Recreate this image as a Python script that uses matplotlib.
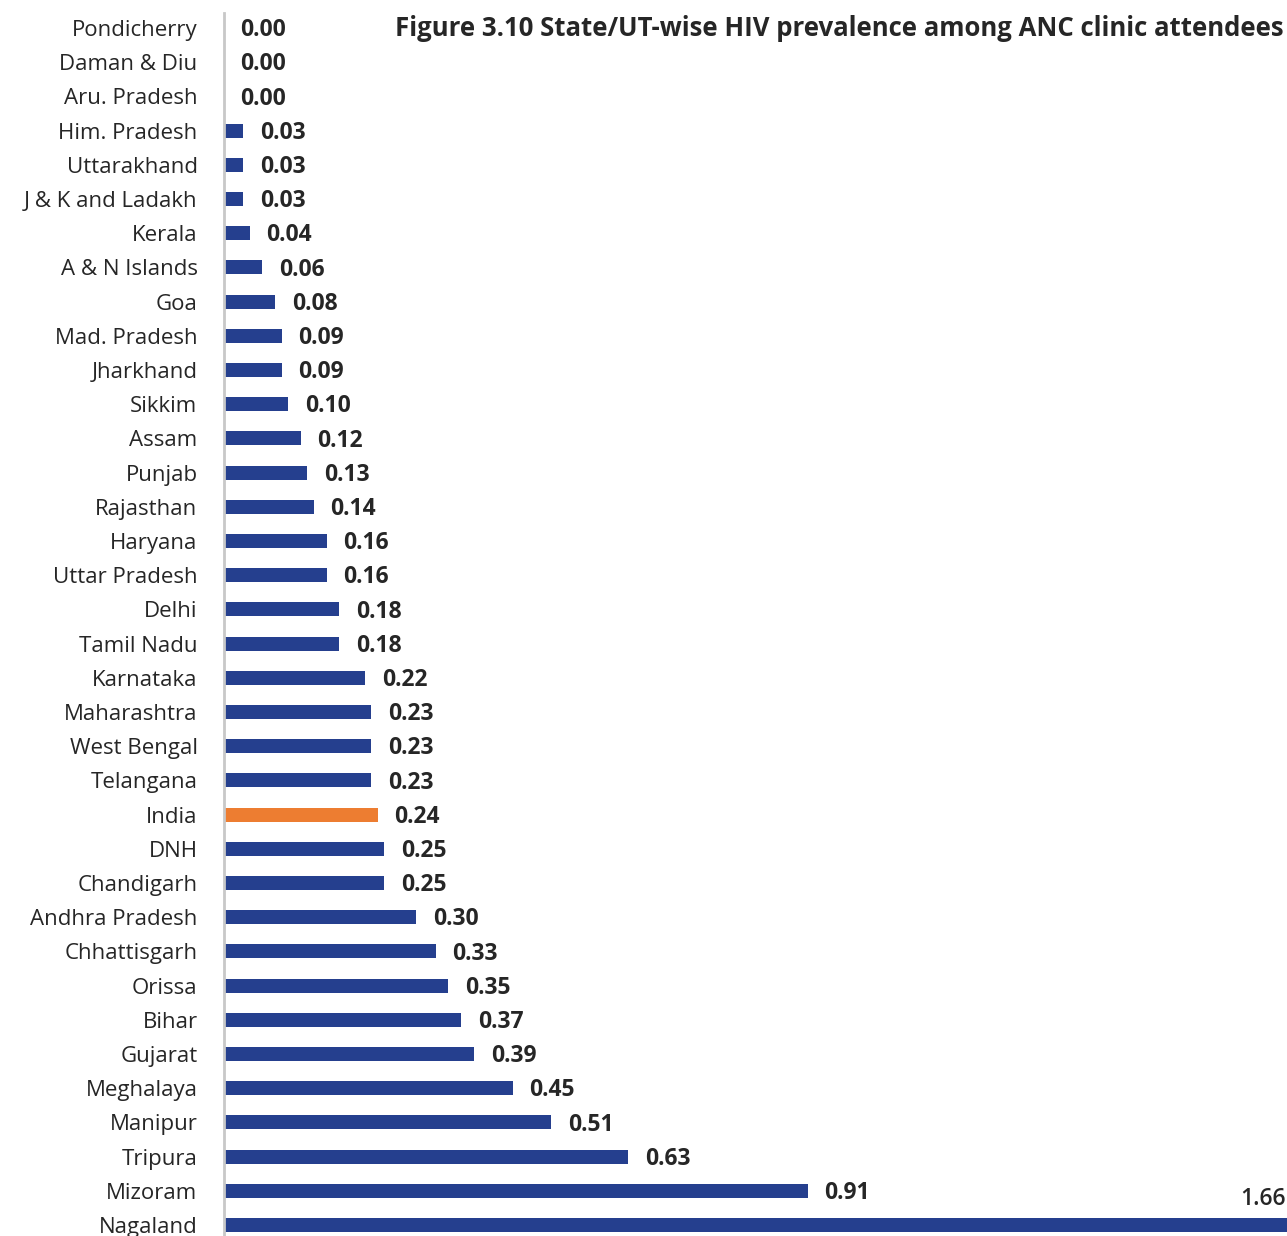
import matplotlib.pyplot as plt

plt.rcParams['font.family'] = ['Open Sans', 'DejaVu Sans']

states = ['Pondicherry', 'Daman & Diu', 'Aru. Pradesh', 'Him. Pradesh', 'Uttarakhand',
          'J & K and Ladakh', 'Kerala', 'A & N Islands', 'Goa', 'Mad. Pradesh',
          'Jharkhand', 'Sikkim', 'Assam', 'Punjab', 'Rajasthan', 'Haryana',
          'Uttar Pradesh', 'Delhi', 'Tamil Nadu', 'Karnataka', 'Maharashtra',
          'West Bengal', 'Telangana', 'India', 'DNH', 'Chandigarh', 'Andhra Pradesh',
          'Chhattisgarh', 'Orissa', 'Bihar', 'Gujarat', 'Meghalaya', 'Manipur',
          'Tripura', 'Mizoram', 'Nagaland']
prevalence = [0.00, 0.00, 0.00, 0.03, 0.03, 0.03, 0.04, 0.06, 0.08, 0.09,
              0.09, 0.10, 0.12, 0.13, 0.14, 0.16, 0.16, 0.18, 0.18, 0.22,
              0.23, 0.23, 0.23, 0.24, 0.25, 0.25, 0.30, 0.33, 0.35, 0.37,
              0.39, 0.45, 0.51, 0.63, 0.91, 1.66]
title = 'Figure 3.10 State/UT-wise HIV prevalence among ANC clinic attendees'

blue = '#253F8E'
orange = '#ED7D31'
colors = [orange if s == 'India' else blue for s in states]

fig = plt.figure(figsize=(12.87, 12.36), dpi=100)
ax = fig.add_axes([0.174, 0.0, 0.826, 1 - 13 / 1236])

pos = list(range(len(states)))
ax.barh(pos, prevalence, height=0.41, color=colors)
ax.set_ylim(35.32, -0.44)
ax.set_xlim(0, 1.657)

ax.set_yticks(pos)
ax.set_yticklabels(states, fontsize=16, color='#262626')
ax.tick_params(axis='y', length=0, pad=19)
ax.set_xticks([])
for side in ['top', 'right', 'bottom']:
    ax.spines[side].set_visible(False)
ax.spines['left'].set_color('#c8c8c8')
ax.spines['left'].set_linewidth(2)

# value labels after each bar, the last one sits above its bar
for i, v in enumerate(prevalence):
    if i == len(prevalence) - 1:
        ax.annotate(f'{v:.2f}', (v, i), xytext=(-2, 10), textcoords='offset points',
                    ha='right', va='bottom', fontsize=16.5, fontweight='semibold',
                    color='#262626', annotation_clip=False)
    else:
        ax.annotate(f'{v:.2f}', (v, i), xytext=(12, -1.5), textcoords='offset points',
                    ha='left', va='center', fontsize=16.5, fontweight='bold',
                    color='#262626')

fig.text(0.997, 1 - 28 / 1236, title, ha='right', va='center',
         fontsize=18.5, fontweight='bold', color='#262626')

fig.savefig('out.png', dpi=100)
